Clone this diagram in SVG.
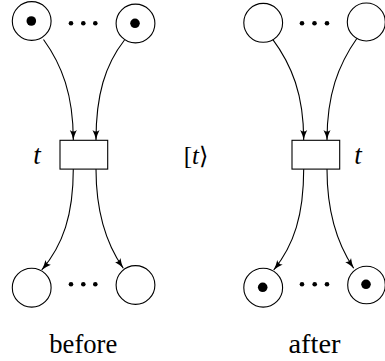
<svg xmlns="http://www.w3.org/2000/svg" width="385" height="361" viewBox="0 0 385 361">
<style>
.place{fill:#fff;stroke:#000;stroke-width:1.1}
.tok{fill:#000}
.trans{fill:#fff;stroke:#000;stroke-width:1.1}
.arc{fill:none;stroke:#000;stroke-width:1.1;marker-end:url(#ah)}
.lbl{font-family:'Liberation Serif','DejaVu Serif',serif;font-size:27px;fill:#000}
.it{font-style:italic}
</style>
<defs>
<marker id="ah" markerUnits="userSpaceOnUse" markerWidth="12" markerHeight="8" refX="10" refY="4" orient="auto" viewBox="0 0 12 8">
<path d="M0,0.5 Q5,3 10,4 Q5,5 0,7.5 Q3,4 0,0.5 z" fill="#000"/>
</marker>
</defs>
<rect width="385" height="361" fill="#fff"/>
<g id="connectors">
<path class="arc" d="M43.5,39.5 C62,65 73.3,95 73.3,140"/>
<path class="arc" d="M124.5,40 C105,65 96,95 96,140"/>
<path class="arc" d="M73.3,169 C73.3,215 63,245 41.7,270"/>
<path class="arc" d="M96,169 C96,215 107,245 123.3,268.3"/>
<path class="arc" d="M272,38.3 C292,65 303.7,95 303.7,140"/>
<path class="arc" d="M357.5,37.5 C338,65 327,95 327,140"/>
<path class="arc" d="M303.7,169 C303.7,215 294,245 273.7,270"/>
<path class="arc" d="M327,169 C327,215 338,245 353.7,268.3"/>
</g>
<g id="before-in1"><circle class="place" cx="31.7" cy="21" r="19.4"/><circle class="tok" cx="31.3" cy="21" r="4.8"/></g>
<g id="before-dots-top"><circle class="tok" cx="71" cy="23.3" r="2.3"/><circle class="tok" cx="83.3" cy="23.3" r="2.3"/><circle class="tok" cx="95.3" cy="23.3" r="2.3"/></g>
<g id="before-in2"><circle class="place" cx="135.5" cy="23.5" r="19.4"/><circle class="tok" cx="135" cy="23.3" r="4.8"/></g>
<g id="before-t"><rect class="trans" x="60" y="140.3" width="47.7" height="28.8"/><text class="lbl it" x="37" y="163.5" text-anchor="middle">t</text></g>
<g id="before-out1"><circle class="place" cx="31.7" cy="287.7" r="19.4"/></g>
<g id="before-dots-bot"><circle class="tok" cx="71" cy="284.3" r="2.3"/><circle class="tok" cx="83.3" cy="284.3" r="2.3"/><circle class="tok" cx="95.3" cy="284.3" r="2.3"/></g>
<g id="before-out2"><circle class="place" cx="135.5" cy="285" r="19.4"/></g>
<g id="fire"><text class="lbl" x="196" y="163.5" text-anchor="middle" style="font-size:25px">[<tspan class="it">t</tspan><tspan style="font-family:'DejaVu Serif',serif;font-size:24px">⟩</tspan></text></g>
<g id="after-in1"><circle class="place" cx="263.2" cy="22.8" r="19.4"/></g>
<g id="after-dots-top"><circle class="tok" cx="302" cy="23.3" r="2.3"/><circle class="tok" cx="314.5" cy="23.3" r="2.3"/><circle class="tok" cx="327" cy="23.3" r="2.3"/></g>
<g id="after-in2"><circle class="place" cx="366.3" cy="22" r="19"/></g>
<g id="after-t"><rect class="trans" x="292" y="140.3" width="47.7" height="28.8"/><text class="lbl it" x="358" y="163.5" text-anchor="middle">t</text></g>
<g id="after-out1"><circle class="place" cx="263.2" cy="287.7" r="19.4"/><circle class="tok" cx="262.7" cy="287.3" r="4.8"/></g>
<g id="after-dots-bot"><circle class="tok" cx="302" cy="284.3" r="2.3"/><circle class="tok" cx="314.7" cy="284.3" r="2.3"/><circle class="tok" cx="327" cy="284.3" r="2.3"/></g>
<g id="after-out2"><circle class="place" cx="366.5" cy="285" r="18.8"/><circle class="tok" cx="366" cy="284.3" r="4.8"/></g>
<text class="lbl" x="83.3" y="353" text-anchor="middle" textLength="68" lengthAdjust="spacingAndGlyphs">before</text>
<text class="lbl" x="314.5" y="353" text-anchor="middle" textLength="52" lengthAdjust="spacingAndGlyphs">after</text>
</svg>
